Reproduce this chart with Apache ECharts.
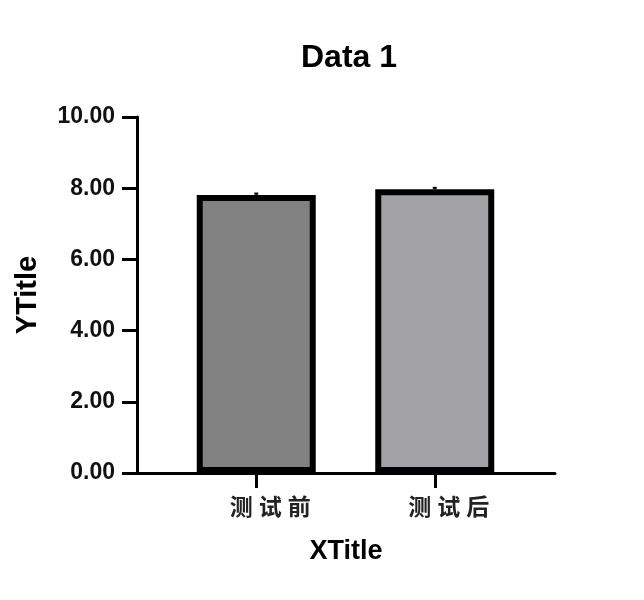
<!DOCTYPE html>
<html>
<head>
<meta charset="utf-8">
<script src="https://cdn.jsdelivr.net/npm/echarts@6/dist/echarts.min.js"></script>
<style>html,body{margin:0;padding:0;background:#fff;}#c{width:644px;height:600px;}</style>
</head>
<body>
<div id="c"></div>
<script>
const categories = ['测试前', '测试后'];
const means = [7.81, 7.97];
const errors = [0.04, 0.04];
const yMin = 0, yMax = 10, yStep = 2;

const barColors = ['#818181', '#a2a1a6'];
const latin = '"Liberation Sans", Arial, sans-serif';
const cjk = '"Noto Sans CJK SC", sans-serif';

const chart = echarts.init(document.getElementById('c'), null, {renderer: 'canvas'});
chart.setOption({
  backgroundColor: '#ffffff',
  animation: false,
  title: {
    text: 'Data 1',
    left: 344, top: 37, textAlign: 'center',
    textStyle: {fontFamily: latin, fontWeight: 'bold', fontSize: 32, color: '#000'}
  },
  grid: [
    {left: 167, width: 357, top: 117, height: 356},
    {left: 137, width: 418, top: 117, height: 356}
  ],
  xAxis: [
    {
      type: 'category', gridIndex: 0, data: categories,
      axisLine: {show: false},
      axisTick: {show: true, alignWithLabel: true, length: 15, lineStyle: {color: '#000', width: 3}},
      axisLabel: {
        margin: 22,
        padding: [0, 0, 0, 28],
        formatter: v => v.split('').map(ch => '{c|' + ch + '}').join(''),
        rich: {c: {fontFamily: cjk, fontWeight: 'bold', fontSize: 23, color: '#222', padding: [0, 3]}}
      }
    },
    {
      type: 'value', gridIndex: 1, min: 0, max: 1,
      axisLine: {show: true, lineStyle: {color: '#000', width: 3}},
      axisTick: {show: false}, axisLabel: {show: false}, splitLine: {show: false},
      name: 'XTitle', nameLocation: 'middle', nameGap: 65,
      nameTextStyle: {fontFamily: latin, fontWeight: 'bold', fontSize: 27, color: '#000'}
    }
  ],
  yAxis: [
    {
      type: 'value', gridIndex: 0, min: yMin, max: yMax, interval: yStep,
      show: false
    },
    {
      type: 'value', gridIndex: 1, min: yMin, max: yMax, interval: yStep,
      axisLine: {show: true, lineStyle: {color: '#000', width: 3}},
      axisTick: {show: true, inside: false, length: 15, lineStyle: {color: '#000', width: 3}},
      splitLine: {show: false},
      axisLabel: {
        margin: 22,
        formatter: v => v.toFixed(2),
        fontFamily: latin, fontWeight: 'bold', fontSize: 23, color: '#111'
      },
      name: 'YTitle', nameLocation: 'middle', nameGap: 95,
      nameTextStyle: {fontFamily: latin, fontWeight: 'bold', fontSize: 29, color: '#000'}
    }
  ],
  series: [
    {
      type: 'bar', xAxisIndex: 0, yAxisIndex: 0,
      barWidth: 119,
      data: means.map((v, i) => ({value: v, itemStyle: {color: barColors[i]}})),
      itemStyle: {borderColor: '#000', borderWidth: 6},
      z: 2
    },
    {
      type: 'custom', xAxisIndex: 0, yAxisIndex: 0, z: 3,
      data: means.map((v, i) => [i, v, errors[i]]),
      renderItem: function (params, api) {
        const x = api.value(0), m = api.value(1), e = api.value(2);
        const p0 = api.coord([x, m]);
        const p1 = api.coord([x, m + e]);
        return {
          type: 'group',
          children: [
            {type: 'line', shape: {x1: p0[0], y1: p0[1], x2: p1[0], y2: p1[1]}, style: {stroke: '#000', lineWidth: 2}},
            {type: 'line', shape: {x1: p1[0] - 2, y1: p1[1], x2: p1[0] + 2, y2: p1[1]}, style: {stroke: '#000', lineWidth: 2}}
          ]
        };
      }
    }
  ]
});
</script>
</body>
</html>
